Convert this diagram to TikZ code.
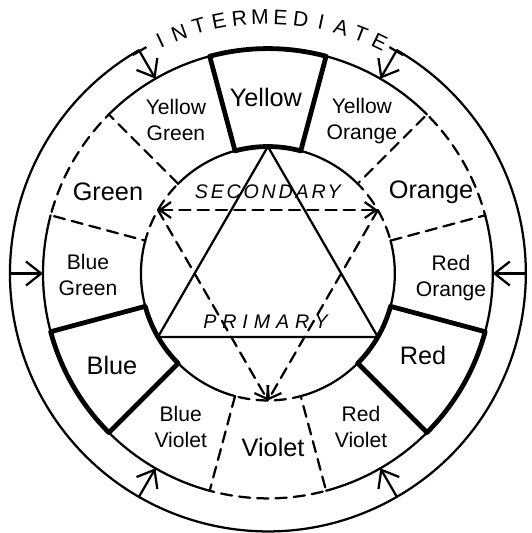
\documentclass[tikz,border=0pt]{standalone}
\usepackage{fontspec}
\setmainfont{Liberation Sans}
\usetikzlibrary{arrows.meta, positioning, calc}

\def\rIn{3.175}
\def\rMid{5.625}
\def\rOut{6.45}

\tikzset{
  primline/.style={line width=3.4pt, line join=round},
  secline/.style={line width=1.6pt, dash pattern=on 8pt off 5pt},
  interline/.style={line width=1.6pt},
  ringarrow/.style={line width=1.6pt, -{Straight Barb[length=3.8mm, width=6mm]}},
  bararrow/.style={line width=1.6pt, {Bar[width=4mm]}-{Straight Barb[length=3.8mm, width=6mm]}},
  sectip/.tip={Straight Barb[length=2.8mm, width=4mm]},
  colorname/.style={font=\fontsize{18}{20}\selectfont, align=center},
  mixname/.style={font=\fontsize{15}{18.5}\selectfont, align=center},
  groupname/.style={font=\fontsize{14}{16}\selectfont\itshape},
  ringletter/.style={font=\fontsize{15}{17}\selectfont, inner sep=0pt},
}

\begin{document}
\begin{tikzpicture}[line cap=round]
  \useasboundingbox (-6.7,-6.49) rectangle (6.6,6.84);

  % --- triangle corners on the inner circle ---
  \coordinate (cYel) at (90:\rIn);
  \coordinate (cRed) at (-30:\rIn);
  \coordinate (cBlu) at (210:\rIn);
  \coordinate (cOrg) at (30:\rIn);
  \coordinate (cVio) at (270:\rIn);
  \coordinate (cGrn) at (150:\rIn);

  % --- intermediate segments: thin arcs ---
  \foreach \a in {45,105,165,225,285,345}
    \draw[interline] (\a:\rIn) arc[start angle=\a, delta angle=30, radius=\rIn]
      (\a:\rMid) arc[start angle=\a, delta angle=30, radius=\rMid];

  % --- secondary segments: dashed ---
  \draw[secline] (15:\rIn) -- (15:\rMid) arc[start angle=15, end angle=45, radius=\rMid] -- (45:\rIn) arc[start angle=45, end angle=15, radius=\rIn];
  \draw[secline] (135:\rIn) -- (135:\rMid) arc[start angle=135, end angle=165, radius=\rMid] -- (165:\rIn) arc[start angle=165, end angle=135, radius=\rIn];
  \draw[secline] (255:\rIn) -- (255:\rMid) arc[start angle=255, end angle=285, radius=\rMid] -- (285:\rIn) arc[start angle=285, end angle=255, radius=\rIn];

  % --- primary segments: thick ---
  \draw[primline] (75:\rIn) -- (75:\rMid) arc[start angle=75, end angle=105, radius=\rMid] -- (105:\rIn) arc[start angle=105, end angle=75, radius=\rIn] -- cycle;
  \draw[primline] (315:\rIn) -- (315:\rMid) arc[start angle=315, end angle=345, radius=\rMid] -- (345:\rIn) arc[start angle=345, end angle=315, radius=\rIn] -- cycle;
  \draw[primline] (195:\rIn) -- (195:\rMid) arc[start angle=195, end angle=225, radius=\rMid] -- (225:\rIn) arc[start angle=225, end angle=195, radius=\rIn] -- cycle;

  % --- triangles ---
  \draw[interline, line join=miter] (cYel) -- (cRed) -- (cBlu) -- cycle;
  \draw[secline, {sectip}-{sectip}] (cGrn) -- (cOrg);
  \draw[secline, -{sectip}] (cOrg) -- (cVio);
  \draw[secline, -{sectip}] (cGrn) -- (cVio);
  \node[groupname] (secname) at (0, 2.04) {\addfontfeature{LetterSpace=14}SECONDARY};
  \node[groupname] (primname) at (-0.06, -1.21) {\addfontfeature{LetterSpace=30}PRIMARY};

  % --- outer ring and arrows to the intermediates ---
  \foreach \a in {0,60,120,180,240,300} {
    \coordinate (o\a) at (\a:\rOut);
    \coordinate (m\a) at (\a:\rMid);
  }
  \draw[interline] (o120) arc[start angle=120, end angle=420, radius=\rOut];
  \draw[bararrow] (o120) -- (m120);
  \draw[bararrow] (o60) -- (m60);
  \draw[ringarrow] (o0) -- (m0);
  \draw[ringarrow] (o180) -- (m180);
  \draw[ringarrow] (o240) -- (m240);
  \draw[ringarrow] (o300) -- (m300);
  \foreach \ch [count=\i, evaluate=\i as \ang using {114.8-4.6*(\i-1)}] in {I,N,T,E,R,M,E,D,I,A,T,E}
    \node[ringletter, rotate=\ang-90] (ch\i) at (\ang:6.42) {\ch};

  % --- colour names ---
  \node[colorname] (yellow) at (-0.05, 4.41) {Yellow};
  \node[colorname] (red) at (3.88, -2.06) {Red};
  \node[colorname] (blue) at (-3.9, -2.31) {Blue};
  \node[colorname] (green) at (-4.0, 2.04) {Green};
  \node[colorname] (orange) at (4.08, 2.04) {Orange};
  \node[colorname] (violet) at (0.13, -4.36) {Violet};
  \node[mixname] (ygreen) at (-2.3, 3.84) {Yellow\\Green};
  \node[mixname] (yorange) at (2.35, 3.81) {Yellow\\Orange};
  \node[mixname] (bgreen) at (-4.5, -0.04) {Blue\\Green};
  \node[mixname] (rorange) at (4.58, -0.11) {Red\\Orange};
  \node[mixname] (bviolet) at (-2.18, -3.84) {Blue\\Violet};
  \node[mixname] (rviolet) at (2.33, -3.84) {Red\\Violet};
\end{tikzpicture}
\end{document}
